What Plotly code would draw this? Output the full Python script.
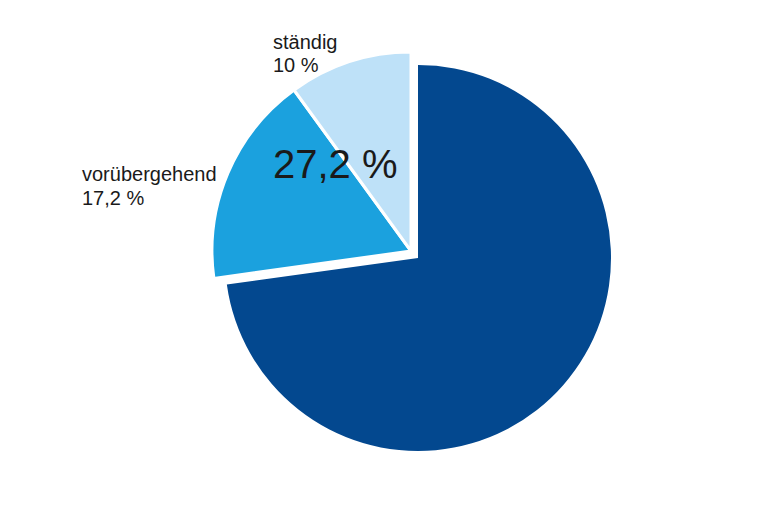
import plotly.graph_objects as go

# data
categories = ["sonstige", "vorübergehend", "ständig"]
values = [72.8, 17.2, 10.0]
colors = ["#03488F", "#1BA1DE", "#BEE1F8"]

W, H = 760, 506
OFF = 8                    # page body margin

def dom(cx, cy, r):
    cx -= OFF
    cy -= OFF
    return dict(x=[(cx - r) / W, (cx + r) / W],
                y=[(H - cy - r) / H, (H - cy + r) / H])

def fmt(v):
    s = f"{v:.1f}"
    if s.endswith(".0"):
        s = s[:-2]
    return s.replace(".", ",") + " %"

fig = go.Figure()
# main slice
fig.add_trace(go.Pie(
    labels=categories, values=values, sort=False, direction="clockwise", rotation=0,
    marker=dict(colors=[colors[0], "rgba(0,0,0,0)", "rgba(0,0,0,0)"],
                line=dict(width=0)),
    textinfo="none", hoverinfo="label+percent", domain=dom(418, 258, 193), showlegend=False))
# exploded group
fig.add_trace(go.Pie(
    labels=categories, values=values, sort=False, direction="clockwise", rotation=0,
    marker=dict(colors=["rgba(0,0,0,0)", colors[1], colors[2]],
                line=dict(width=[0, 3, 3], color="white")),
    textinfo="none", hoverinfo="label+percent", domain=dom(411, 251, 199), showlegend=False))

font_small = dict(family="Liberation Sans, Arial, sans-serif", size=20, color="#1a1a1a")
ann = []
def px(x, y, text, size=20, anchor="left"):
    ann.append(dict(x=(x - OFF) / W, y=1 - (y - OFF) / H, xref="paper", yref="paper", text=text,
                    showarrow=False, xanchor=anchor, yanchor="middle",
                    font=dict(font_small, size=size)))

px(271, 42, categories[2])
px(271, 65, fmt(values[2]))
px(80, 174, categories[1])
px(80, 198, fmt(values[1]))
px(335, 164, fmt(values[1] + values[2]), size=40, anchor="center")

fig.update_layout(width=W, height=H, margin=dict(l=0, r=0, t=0, b=0),
                  paper_bgcolor="white", plot_bgcolor="white", annotations=ann)
fig.write_html("out.html")
